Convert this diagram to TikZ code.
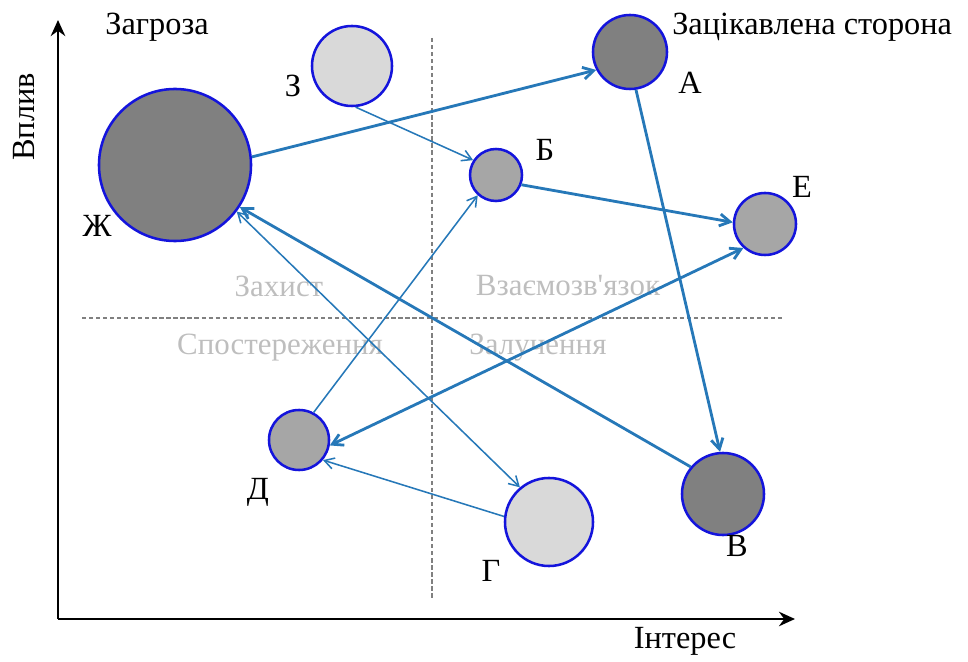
\documentclass[tikz,border=0pt]{standalone}
\usepackage{fontspec}
\setmainfont{Liberation Serif}
\usepackage{xcolor}
\usetikzlibrary{arrows.meta, positioning}
\definecolor{cLine}{RGB}{38,120,184}
\definecolor{cRim}{RGB}{20,20,220}
\definecolor{cDark}{RGB}{128,128,128}
\definecolor{cMid}{RGB}{166,166,166}
\definecolor{cLight}{RGB}{217,217,217}
\definecolor{cZone}{RGB}{190,190,190}
\tikzset{
	stake/.style    ={circle, draw=cRim, line width=1.8pt, inner sep=0pt},
	lbl/.style      ={font=\fontsize{23}{27}\selectfont, inner sep=0pt},
	zone/.style     ={font=\fontsize{22}{26}\selectfont, text=cZone, inner sep=0pt},
	axis/.style     ={-{Stealth[length=4mm, width=3.6mm]}, line width=2pt, black},
	split/.style    ={dashed, dash pattern=on 3pt off 2pt, line width=1.2pt, cDark},
	% influence links
	strong/.style   ={-{Straight Barb[length=2.6mm, width=3mm]}, line width=2pt, cLine},
	weak/.style     ={-{Straight Barb[length=2.4mm, width=2.8mm]}, line width=1.1pt, cLine},
}
\begin{document}
\begin{tikzpicture}[x=0.025cm, y=-0.025cm]
	\useasboundingbox (0,0) rectangle (968,662);
	% axes and quadrants
	\coordinate (o) at (58,619);
	\coordinate (ytop) at (58,20);
	\coordinate (xend) at (795,619);
	\draw[axis] (o) -- (ytop);
	\draw[axis] (o) -- (xend);
	\coordinate (vtop) at (432,38);
	\coordinate (vbot) at (432,600);
	\coordinate (hl) at (82,318);
	\coordinate (hr) at (782,318);
	\draw[split] (vtop) -- (vbot);
	\draw[split] (hl) -- (hr);
	\node[lbl, rotate=90] (vplyv) at (24,117) {Вплив};
	\node[lbl] (intr) at (685,641) {Інтерес};
	\node[lbl] (zagr) at (157,27) {Загроза};
	\node[lbl, anchor=west] (zats) at (672,27) {Зацікавлена сторона};
	\node[zone] (q1) at (279,286) {Захист};
	\node[zone] (q2) at (568,286) {Взаємозв\textquotesingle язок};
	\node[zone] (q3) at (280,348) {Спостереження};
	\node[zone] (q4) at (538,348) {Залучення};
	% stakeholders
	\node[stake, fill=cDark, minimum size=3.8cm] (zh) at (175,165) {};
	\node[stake, fill=cLight, minimum size=2cm] (z) at (352,66) {};
	\node[stake, fill=cDark, minimum size=1.85cm] (a) at (630,52) {};
	\node[stake, fill=cMid, minimum size=1.3cm] (b) at (496,175) {};
	\node[stake, fill=cMid, minimum size=1.55cm] (e) at (765,224) {};
	\node[stake, fill=cMid, minimum size=1.5cm] (d) at (299,440) {};
	\node[stake, fill=cLight, minimum size=2.2cm] (g) at (549,522) {};
	\node[stake, fill=cDark, minimum size=2.05cm] (v) at (723,494) {};
	\node[lbl] (lzh) at (97,226) {Ж};
	\node[lbl] (lz) at (293,86) {З};
	\node[lbl] (la) at (690,83) {А};
	\node[lbl] (lb) at (545,150) {Б};
	\node[lbl] (le) at (802,187) {Е};
	\node[lbl] (ld) at (258,492) {Д};
	\node[lbl] (lg) at (491,571) {Г};
	\node[lbl] (lv) at (737,546) {В};
	% links
	\draw[strong] (zh.6) -- (a.208);
	\draw[weak] (z.275) -- (b.147);
	\draw[strong] (b.-21) -- (e.177);
	\draw[strong] (a.-81) -- (v.94);
	\draw[strong] (v.140) -- (zh.-33);
	\draw[weak, {Straight Barb[length=2.4mm, width=2.8mm]}-{Straight Barb[length=2.4mm, width=2.8mm]}] (zh.-37) -- (g.130);
	\draw[weak] (d.62) -- (b.228);
	\draw[strong, {Straight Barb[length=2.6mm, width=3mm]}-{Straight Barb[length=2.6mm, width=3mm]}] (d.-10) -- (e.228);
	\draw[weak] (g.173) -- (d.-40);
\end{tikzpicture}
\end{document}
